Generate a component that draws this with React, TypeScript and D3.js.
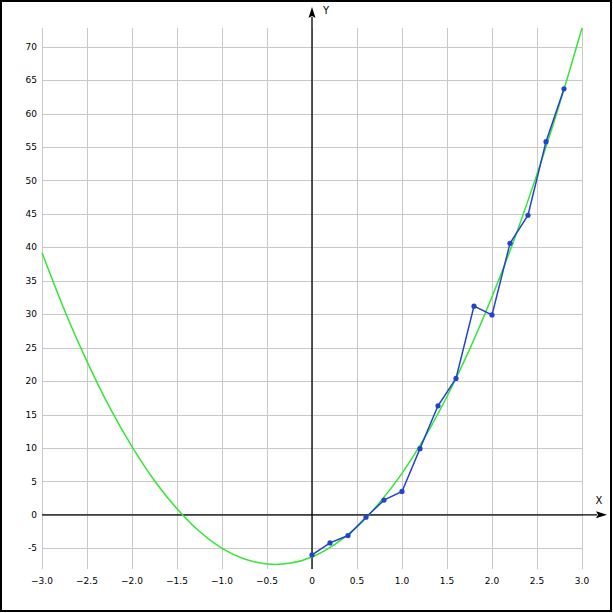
import React from "react";
import * as d3 from "d3";

// Fitted curve samples
const curveX = [-3, -2.75, -2.5, -2.25, -2, -1.75, -1.5, -1.25, -1, -0.75, -0.5, -0.25, 0, 0.25, 0.5, 0.75, 1, 1.25, 1.5, 1.75, 2, 2.25, 2.5, 2.75, 3];
const curveY = [39.2, 30.6, 22.95, 16.1, 10.2, 5.1, 0.9, -2.5, -5.0, -6.6, -7.35, -7.25, -6.3, -4.45, -1.8, 1.8, 6.2, 11.5, 17.7, 24.7, 32.6, 41.3, 50.95, 61.4, 72.8];

// Observed data points
const dataX = [0, 0.2, 0.4, 0.6, 0.8, 1.0, 1.2, 1.4, 1.6, 1.8, 2.0, 2.2, 2.4, 2.6, 2.8];
const dataY = [-6.0, -4.2, -3.1, -0.35, 2.2, 3.5, 9.9, 16.3, 20.4, 31.2, 29.9, 40.6, 44.8, 55.8, 63.7];

const xTicks = [-3, -2.5, -2, -1.5, -1, -0.5, 0, 0.5, 1, 1.5, 2, 2.5, 3];
const yTicks = [-5, 0, 5, 10, 15, 20, 25, 30, 35, 40, 45, 50, 55, 60, 65, 70];
const xDomain: [number, number] = [-3, 3];
const yDomain: [number, number] = [-8.1, 72.8];

const W = 613;
const H = 613;
const FONT = "'DejaVu Sans', Verdana, sans-serif";

export default function App() {
  const x = d3.scaleLinear().domain(xDomain).range([42, 582]);
  const y = d3.scaleLinear().domain(yDomain).range([569, 28]);

  const curvePts: [number, number][] = curveX.map((v, i) => [v, curveY[i]]);
  const dataPts: [number, number][] = dataX.map((v, i) => [v, dataY[i]]);

  const curveLine = d3
    .line<[number, number]>()
    .x((d) => x(d[0]))
    .y((d) => y(d[1]))
    .curve(d3.curveNatural);
  const dataLine = d3
    .line<[number, number]>()
    .x((d) => x(d[0]))
    .y((d) => y(d[1]));

  const x0 = x(0);
  const y0 = y(0);
  const gridColor = "#c8c8c8";

  return (
    <svg
      width={W}
      height={H}
      style={{ position: "absolute", left: 0, top: 0, background: "#fff" }}
    >
      <rect x={0} y={0} width={W} height={H} fill="#fff" />
      <rect x={1} y={1} width={610} height={610} fill="none" stroke="#000" strokeWidth={2} />

      {/* grid */}
      <g shapeRendering="crispEdges">
        {xTicks.map((t) => (
          <line
            key={"gx" + t}
            x1={Math.round(x(t)) + 0.5}
            x2={Math.round(x(t)) + 0.5}
            y1={y(yDomain[1])}
            y2={y(yDomain[0])}
            stroke={gridColor}
            strokeWidth={1}
          />
        ))}
        {yTicks.map((t) => (
          <line
            key={"gy" + t}
            x1={x(xDomain[0])}
            x2={x(xDomain[1])}
            y1={Math.round(y(t)) + 0.5}
            y2={Math.round(y(t)) + 0.5}
            stroke={gridColor}
            strokeWidth={1}
          />
        ))}
      </g>

      {/* tick labels */}
      <g fontFamily={FONT} fontSize={9} fill="#000">
        {xTicks.map((t) => (
          <text key={"tx" + t} x={x(t)} y={583.5} textAnchor="middle">
            {t === 0 ? "0" : d3.format(".1f")(t)}
          </text>
        ))}
        {yTicks.map((t) => (
          <text key={"ty" + t} x={37} y={y(t)} dy="0.35em" textAnchor="end">
            {String(t)}
          </text>
        ))}
      </g>

      {/* axes */}
      <line x1={x(xDomain[0])} x2={597} y1={y0} y2={y0} stroke="#000" strokeWidth={1.3} />
      <path d={`M607,${y0} L596,${y0 - 3.5} L598,${y0} L596,${y0 + 3.5} Z`} fill="#000" />
      <line x1={x0} x2={x0} y1={y(yDomain[0])} y2={17} stroke="#000" strokeWidth={1.3} />
      <path d={`M${x0},7 L${x0 - 3.5},18 L${x0},16 L${x0 + 3.5},18 Z`} fill="#000" />
      <text x={599} y={504} fontFamily={FONT} fontSize={10} textAnchor="middle">X</text>
      <text x={326} y={14} fontFamily={FONT} fontSize={10} textAnchor="middle">Y</text>

      {/* fitted curve */}
      <path d={curveLine(curvePts) || ""} fill="none" stroke="#33e633" strokeWidth={1.5} />

      {/* data */}
      <path d={dataLine(dataPts) || ""} fill="none" stroke="#2244cc" strokeWidth={1.5} />
      {dataPts.map((d, i) => (
        <circle key={"p" + i} cx={x(d[0])} cy={y(d[1])} r={2.6} fill="#2244cc" />
      ))}
    </svg>
  );
}
